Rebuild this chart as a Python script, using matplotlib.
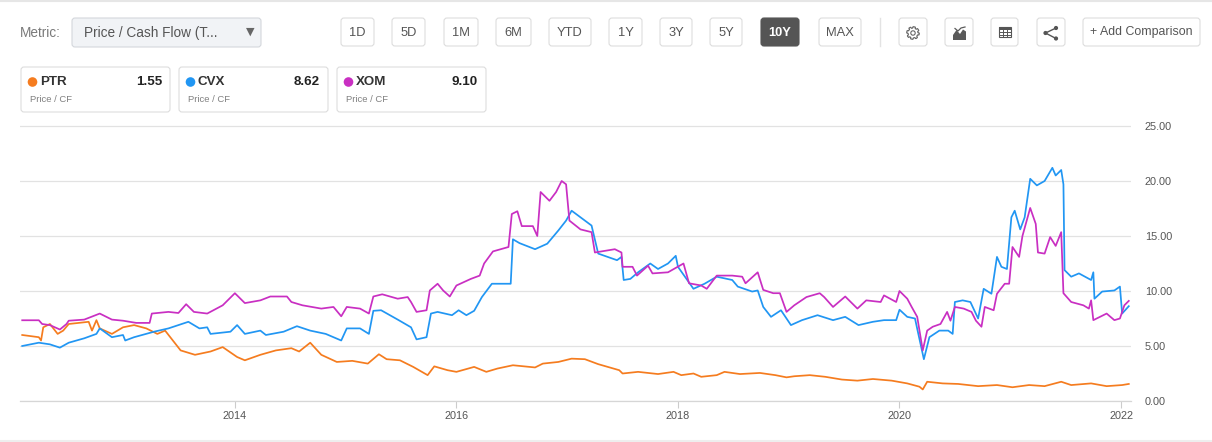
import matplotlib
matplotlib.use("Agg")
import matplotlib.pyplot as plt
from matplotlib.patches import FancyBboxPatch, Circle, Polygon, Rectangle
import numpy as np

plt.rcParams['font.family'] = ['Liberation Sans', 'DejaVu Sans']

# ---------------- data (decimal years, Price / Cash Flow) ----------------
ptr_t = [2012.08, 2012.23, 2012.25, 2012.27, 2012.33, 2012.40, 2012.45, 2012.50, 2012.68, 2012.71,
         2012.75, 2012.78, 2012.89, 2012.99, 2013.09, 2013.20, 2013.30, 2013.37, 2013.51, 2013.64,
         2013.78, 2013.89, 2014.02, 2014.09, 2014.23, 2014.37, 2014.51, 2014.58, 2014.68, 2014.78,
         2014.92, 2015.06, 2015.20, 2015.30, 2015.37, 2015.49, 2015.61, 2015.74, 2015.80, 2015.92,
         2016.00, 2016.16, 2016.27, 2016.37, 2016.51, 2016.71, 2016.78, 2016.92, 2017.04, 2017.16,
         2017.28, 2017.47, 2017.50, 2017.64, 2017.82, 2017.96, 2018.03, 2018.14, 2018.21, 2018.35,
         2018.42, 2018.56, 2018.74, 2018.88, 2018.98, 2019.05, 2019.19, 2019.33, 2019.48, 2019.62,
         2019.76, 2019.93, 2020.07, 2020.18, 2020.21, 2020.25, 2020.39, 2020.53, 2020.71, 2020.88,
         2021.02, 2021.17, 2021.31, 2021.46, 2021.55, 2021.73, 2021.87, 2022.01, 2022.07]
ptr_v = [6.0, 5.8, 5.5, 6.7, 7.0, 6.1, 6.4, 7.0, 7.2, 6.4,
         7.35, 6.6, 6.1, 6.7, 6.9, 6.6, 6.1, 6.4, 4.6, 4.2,
         4.5, 4.9, 4.0, 3.7, 4.2, 4.6, 4.8, 4.5, 5.3, 4.2,
         3.55, 3.65, 3.4, 4.25, 3.8, 3.7, 3.1, 2.35, 3.15, 2.8,
         2.65, 3.1, 2.65, 2.95, 3.25, 3.05, 3.4, 3.55, 3.85, 3.8,
         3.35, 2.8, 2.5, 2.65, 2.45, 2.65, 2.35, 2.5, 2.2, 2.35,
         2.65, 2.45, 2.55, 2.35, 2.15, 2.25, 2.35, 2.2, 1.95, 1.85,
         2.0, 1.85, 1.6, 1.3, 1.05, 1.75, 1.6, 1.55, 1.35, 1.45,
         1.25, 1.45, 1.35, 1.75, 1.45, 1.6, 1.35, 1.45, 1.55]

cvx_t = [2012.08, 2012.23, 2012.33, 2012.42, 2012.50, 2012.64, 2012.75, 2012.78, 2012.89, 2012.99,
         2013.01, 2013.09, 2013.27, 2013.40, 2013.58, 2013.68, 2013.75, 2013.78, 2013.96, 2014.02,
         2014.09, 2014.23, 2014.28, 2014.44, 2014.56, 2014.68, 2014.82, 2014.96, 2015.01, 2015.13,
         2015.21, 2015.25, 2015.32, 2015.47, 2015.59, 2015.64, 2015.73, 2015.77, 2015.83, 2015.96,
         2016.02, 2016.09, 2016.16, 2016.23, 2016.32, 2016.49, 2016.51, 2016.57, 2016.71, 2016.82,
         2016.92, 2016.99, 2017.04, 2017.12, 2017.22, 2017.28, 2017.45, 2017.49, 2017.51, 2017.57,
         2017.64, 2017.75, 2017.82, 2017.91, 2017.98, 2018.00, 2018.14, 2018.24, 2018.35, 2018.49,
         2018.54, 2018.67, 2018.72, 2018.77, 2018.84, 2018.93, 2019.02, 2019.12, 2019.26, 2019.40,
         2019.51, 2019.63, 2019.76, 2019.86, 2019.97, 2020.00, 2020.07, 2020.14, 2020.17, 2020.22,
         2020.27, 2020.36, 2020.44, 2020.48, 2020.50, 2020.57, 2020.64, 2020.71, 2020.76, 2020.83,
         2020.88, 2020.92, 2020.97, 2021.01, 2021.04, 2021.09, 2021.13, 2021.18, 2021.24, 2021.31,
         2021.38, 2021.41, 2021.46, 2021.48, 2021.49, 2021.55, 2021.62, 2021.73, 2021.75, 2021.76,
         2021.83, 2021.94, 2021.99, 2022.01, 2022.07]
cvx_v = [5.0, 5.3, 5.15, 4.85, 5.3, 5.7, 6.1, 6.6, 5.8, 6.0,
         5.5, 5.8, 6.3, 6.6, 7.2, 6.6, 6.7, 6.1, 6.3, 6.9,
         6.1, 6.4, 6.0, 6.3, 6.8, 6.4, 6.1, 5.5, 6.6, 6.6,
         6.1, 8.2, 8.25, 7.4, 6.7, 5.6, 5.8, 7.95, 8.1, 7.8,
         8.25, 7.8, 8.2, 9.45, 10.66, 10.66, 14.7, 14.35, 13.8, 14.3,
         15.5, 16.4, 17.3, 16.7, 15.95, 13.4, 12.8, 13.1, 11.0, 11.1,
         11.7, 12.5, 12.0, 12.5, 13.2, 12.2, 10.2, 10.66, 11.3, 11.0,
         10.4, 9.95, 10.05, 8.55, 7.65, 8.25, 6.9, 7.35, 7.8, 7.35,
         7.65, 6.9, 7.2, 7.35, 7.35, 8.3, 7.65, 7.5, 6.1, 3.8,
         5.8, 6.4, 6.4, 6.1, 9.0, 9.15, 9.0, 7.5, 10.2, 9.75,
         13.1, 12.2, 12.0, 16.7, 17.3, 15.6, 16.7, 20.2, 19.6, 20.0,
         21.2, 20.5, 21.0, 19.7, 11.9, 11.3, 11.6, 11.0, 11.7, 9.3,
         9.95, 10.05, 10.4, 7.95, 8.62]

xom_t = [2012.08, 2012.23, 2012.26, 2012.33, 2012.42, 2012.48, 2012.50, 2012.64, 2012.78, 2012.89,
         2012.99, 2013.11, 2013.23, 2013.25, 2013.40, 2013.49, 2013.56, 2013.63, 2013.75, 2013.89,
         2014.00, 2014.09, 2014.23, 2014.32, 2014.47, 2014.51, 2014.61, 2014.78, 2014.89, 2014.96,
         2015.01, 2015.13, 2015.21, 2015.25, 2015.33, 2015.47, 2015.56, 2015.59, 2015.64, 2015.73,
         2015.76, 2015.83, 2015.88, 2015.94, 2016.00, 2016.13, 2016.21, 2016.25, 2016.33, 2016.47,
         2016.50, 2016.55, 2016.59, 2016.69, 2016.73, 2016.76, 2016.84, 2016.90, 2016.95, 2016.99,
         2017.02, 2017.12, 2017.22, 2017.25, 2017.43, 2017.49, 2017.50, 2017.59, 2017.63, 2017.73,
         2017.77, 2017.91, 2018.05, 2018.10, 2018.21, 2018.26, 2018.35, 2018.49, 2018.58, 2018.61,
         2018.72, 2018.77, 2018.86, 2018.92, 2018.98, 2019.05, 2019.16, 2019.28, 2019.32, 2019.40,
         2019.51, 2019.62, 2019.70, 2019.83, 2019.86, 2019.97, 2020.00, 2020.07, 2020.11, 2020.16,
         2020.21, 2020.25, 2020.30, 2020.37, 2020.43, 2020.46, 2020.50, 2020.58, 2020.65, 2020.69,
         2020.74, 2020.77, 2020.85, 2020.88, 2020.95, 2020.99, 2021.02, 2021.08, 2021.11, 2021.18,
         2021.23, 2021.25, 2021.31, 2021.36, 2021.41, 2021.46, 2021.48, 2021.55, 2021.66, 2021.71,
         2021.73, 2021.75, 2021.87, 2021.94, 2021.99, 2022.03, 2022.07]
xom_v = [7.34, 7.34, 7.0, 6.9, 6.5, 7.0, 7.3, 7.4, 7.95, 7.4,
         7.3, 7.1, 7.1, 7.95, 8.1, 8.0, 8.8, 8.1, 7.95, 8.7,
         9.8, 8.9, 9.15, 9.5, 9.5, 9.0, 8.7, 8.4, 8.55, 7.7,
         8.55, 8.4, 7.95, 9.5, 9.7, 9.3, 9.45, 9.0, 8.1, 8.25,
         10.05, 10.66, 10.05, 9.5, 10.5, 11.1, 11.4, 12.5, 13.6, 14.0,
         17.0, 17.25, 15.9, 15.9, 15.0, 19.0, 18.2, 19.0, 20.0, 19.7,
         16.4, 15.6, 15.35, 13.5, 13.8, 13.5, 12.2, 12.2, 11.4, 12.3,
         11.6, 11.7, 12.5, 10.7, 10.5, 10.2, 11.4, 11.4, 11.3, 10.7,
         11.7, 10.1, 9.8, 9.8, 8.1, 8.7, 9.45, 9.8, 9.45, 8.55,
         9.5, 8.4, 9.15, 9.0, 9.6, 9.0, 10.0, 9.3, 8.55, 7.65,
         4.6, 6.4, 6.75, 7.0, 8.1, 7.3, 8.55, 8.4, 8.1, 7.3,
         6.75, 8.55, 8.25, 9.75, 10.66, 10.66, 14.0, 13.1, 15.0, 17.55,
         16.1, 13.5, 13.4, 14.9, 14.1, 15.35, 9.8, 9.0, 8.7, 8.4,
         9.15, 7.35, 7.95, 7.35, 7.5, 8.7, 9.10]

tickers = ["PTR", "CVX", "XOM"]
last_values = [1.55, 8.62, 9.10]
series_colors = ["#f57c1f", "#2196f3", "#c92fc2"]
x_ticks = [2014, 2016, 2018, 2020, 2022]
y_ticks = [0, 5, 10, 15, 20, 25]
range_buttons = ["1D", "5D", "1M", "6M", "YTD", "1Y", "3Y", "5Y", "10Y", "MAX"]
metric_label = "Price / Cash Flow (T..."

# ---------------- figure ----------------
W, H = 1212, 442
fig = plt.figure(figsize=(W / 100, H / 100), dpi=100)
fig.patch.set_facecolor("white")

ui = fig.add_axes([0, 0, 1, 1])
ui.set_xlim(0, W)
ui.set_ylim(H, 0)
ui.axis("off")


def rbox(x0, x1, y0, y1, fc="white", ec="#dcdcdc", r=3, lw=0.8):
    p = FancyBboxPatch((x0, y0), x1 - x0, y1 - y0,
                       boxstyle=f"round,pad=0,rounding_size={r}",
                       fc=fc, ec=ec, lw=lw)
    ui.add_patch(p)


# page borders
ui.plot([0, W], [0.8, 0.8], color="#e6e6e6", lw=1.5)
ui.plot([0, W], [441, 441], color="#eeeeee", lw=1.5)

# metric selector
ui.text(20, 33, "Metric:", fontsize=9.8, color="#7a7a7a", va="center", ha="left")
rbox(72, 261, 18, 47, fc="#f1f3f6", ec="#d4d7dc")
ui.text(84, 33, metric_label, fontsize=9.8, color="#555555", va="center", ha="left")
ui.text(250, 32, "▼", fontsize=8, color="#666666", va="center", ha="center",
        family=["DejaVu Sans"])

# range buttons
btn_x = [(341, 374), (392, 425), (444, 478), (496, 531), (549, 591),
         (609, 642), (660, 692), (710, 742), (761, 799), (819, 861)]
for lab, (x0, x1) in zip(range_buttons, btn_x):
    active = lab == "10Y"
    rbox(x0, x1, 18, 46, fc="#555555" if active else "white",
         ec="#555555" if active else "#dddddd")
    ui.text((x0 + x1) / 2, 32.5, lab, fontsize=9.3,
            color="white" if active else "#555555",
            fontweight="bold" if active else "normal",
            va="center", ha="center")

ui.plot([880, 880], [18, 46], color="#e3e3e3", lw=1)

# icon buttons
icon_x = [(899, 927), (945, 973), (991, 1018), (1037, 1065)]
for x0, x1 in icon_x:
    rbox(x0, x1, 18, 46, ec="#dddddd")

# gear
cx, cy = 913, 33
ang = np.linspace(0, 2 * np.pi, 97)
rad = np.where((np.floor(ang / (2 * np.pi) * 16) % 2) == 0, 6.3, 4.9)
ui.add_patch(Polygon(np.c_[cx + rad * np.cos(ang), cy + rad * np.sin(ang)],
                     closed=True, fc="none", ec="#666666", lw=0.8))
ui.add_patch(Circle((cx, cy), 2.2, fc="none", ec="#666666", lw=0.8))
# area chart icon
ui.add_patch(Polygon([(953, 40), (953, 35), (956.5, 30), (960, 34), (963, 29.5), (966, 31.5), (966, 40)],
                     closed=True, fc="#5a5a5a", ec="none"))
ui.plot([955, 958, 961, 965], [28.5, 31, 28, 27], color="#5a5a5a", lw=0.9)
# table icon
ui.add_patch(Rectangle((999, 27), 12, 10, fc="white", ec="#555555", lw=0.8))
ui.add_patch(Rectangle((999, 27), 12, 2.5, fc="#555555", ec="none"))
for gx in (1003, 1007):
    ui.plot([gx, gx], [29.5, 37], color="#555555", lw=0.7)
for gy in (32, 34.5):
    ui.plot([999, 1011], [gy, gy], color="#555555", lw=0.7)
# share icon
pts = [(1045.5, 33), (1056, 28), (1056, 38.5)]
ui.plot([pts[1][0], pts[0][0], pts[2][0]], [pts[1][1], pts[0][1], pts[2][1]], color="#555555", lw=1)
for p in pts:
    ui.add_patch(Circle(p, 2.1, fc="#555555", ec="none"))

rbox(1083, 1200, 18, 46, ec="#dddddd")
ui.text(1141.5, 32.5, "+ Add Comparison", fontsize=8.9, color="#555555", va="center", ha="center")

# legend cards
card_x = [21, 179, 337]
for x0, tk, val, col in zip(card_x, tickers, last_values, series_colors):
    rbox(x0, x0 + 149, 67, 112, ec="#dddddd")
    ui.add_patch(Circle((x0 + 11.5, 82), 4.8, fc=col, ec="none"))
    ui.text(x0 + 19, 82, tk, fontsize=9.6, fontweight="bold", color="#333333", va="center", ha="left")
    ui.text(x0 + 141, 82, f"{val:.2f}", fontsize=9.6, fontweight="bold", color="#222222",
            va="center", ha="right")
    ui.text(x0 + 9, 99.5, "Price / CF", fontsize=6.8, color="#808080", va="center", ha="left")

# ---------------- chart ----------------
y_top = 25.3
px_per_unit = 11.0
ax_h = y_top * px_per_unit
ax = fig.add_axes([20 / W, (H - 401) / H, (1131 - 20) / W, ax_h / H])
ax.patch.set_alpha(0)

for t, v, col in [(ptr_t, ptr_v, series_colors[0]),
                  (cvx_t, cvx_v, series_colors[1]),
                  (xom_t, xom_v, series_colors[2])]:
    ax.plot(t, v, color=col, lw=1.25, solid_joinstyle="round")

ax.set_xlim(2012.06, 2022.09)
ax.set_ylim(0, y_top)
ax.set_yticks(y_ticks)
ax.set_yticklabels([f"{v:.2f}" for v in y_ticks])
ax.set_xticks(x_ticks)
ax.set_xticklabels([str(v) for v in x_ticks])
ax.yaxis.tick_right()
ax.tick_params(axis="y", length=0, pad=10, labelsize=7.8, labelcolor="#555555")
ax.tick_params(axis="x", length=5, width=0.8, color="#cccccc", pad=2,
               labelsize=7.8, labelcolor="#555555")
ax.grid(axis="y", color="#e2e2e2", lw=0.9)
ax.set_axisbelow(True)
for s in ("top", "left", "right"):
    ax.spines[s].set_visible(False)
ax.spines["bottom"].set_color("#d6d6d6")
ax.spines["bottom"].set_linewidth(0.9)

fig.savefig("out.png", dpi=100, facecolor="white")
